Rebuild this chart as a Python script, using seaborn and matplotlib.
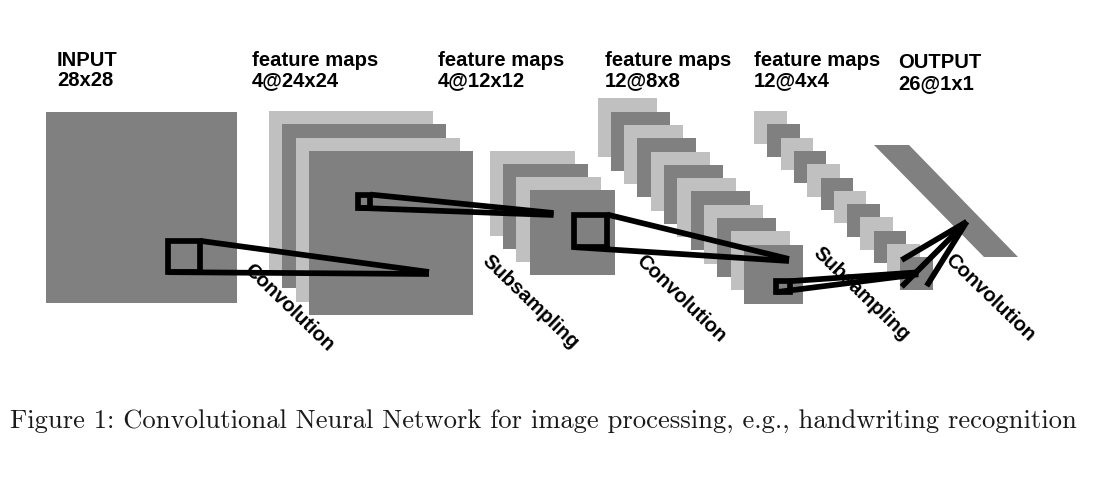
import matplotlib
matplotlib.use("Agg")
import matplotlib.pyplot as plt
from matplotlib.patches import Rectangle, Polygon
import seaborn as sns

# layer headings (two lines each)
head_title = ["INPUT", "feature maps", "feature maps", "feature maps", "feature maps", "OUTPUT"]
head_dims = ["28x28", "4@24x24", "4@12x12", "12@8x8", "12@4x4", "26@1x1"]
head_x = [57, 252, 438, 605, 754, 898]
head_y = [66, 66, 66, 66, 66, 68.5]

# stacks of feature maps: corner of the back map, side, number of maps
stack_x = [45.5, 269, 490, 597.5, 754]
stack_y = [112, 111, 150.7, 98.3, 111]
stack_side = [191, 164, 85, 59, 32.5]
stack_n = [1, 4, 4, 12, 12]
stack_step = [0, 13.3, 13.2, 13.3, 13.3]

# output layer drawn as a slanted slab
out_x = [874, 909, 1018, 984]
out_y = [145, 145, 257, 257]

# kernels: box (x0, y0, x1, y1) and the apex it points to
kern_box = [(165, 238, 203, 275), (355.4, 191.7, 373.2, 210.7),
            (570.7, 211.7, 610, 250), (773.3, 278.3, 793.3, 295)]
kern_apex = [(429, 273), (553.6, 214), (789, 260), (918.3, 273.3)]
# last convolution: three rays into the output
ray_from = [(901.7, 260), (901.7, 286.7), (926.7, 286)]
ray_to = (966.7, 221.7)

step_labels = ["Convolution", "Subsampling", "Convolution", "Subsampling", "Convolution"]
step_cx = [289, 530, 681, 861, 990]
step_cy = [308, 302, 299, 294, 298]

caption = "Figure 1: Convolutional Neural Network for image processing, e.g., handwriting recognition"

DARK = "#808080"
LIGHT = "#c0c0c0"
LW = 4.1

sns.set_theme(style="white")
plt.rcParams["font.family"] = ["Liberation Sans", "DejaVu Sans"]
plt.rcParams["text.color"] = "black"

W, H = 1112, 494
fig = plt.figure(figsize=(W / 100, H / 100), dpi=100)
ax = fig.add_axes([0, 0, 1, 1])
ax.set_xlim(0, W)
ax.set_ylim(H, 0)
ax.axis("off")

# headings
for t, d, x, y in zip(head_title, head_dims, head_x, head_y):
    ax.text(x, y, t, fontsize=14.6, fontweight="bold", ha="left", va="baseline")
    ax.text(x, y + 20.5, d, fontsize=14.6, fontweight="bold", ha="left", va="baseline")

# stacks, back to front
for x0, y0, side, n, st in zip(stack_x, stack_y, stack_side, stack_n, stack_step):
    for i in range(n):
        if n == 1:
            col = DARK
        else:
            col = LIGHT if i % 2 == 0 else DARK
        ax.add_patch(Rectangle((x0 + i * st, y0 + i * st), side, side,
                               facecolor=col, edgecolor="none", zorder=1 + i * 0.01))

ax.add_patch(Polygon(list(zip(out_x, out_y)), closed=True, facecolor=DARK,
                     edgecolor="none", zorder=1))

# kernels
h = LW * 100 / 72 / 2
for (x0, y0, x1, y1), (ax_, ay_) in zip(kern_box, kern_apex):
    ax.add_patch(Rectangle((x0 + h, y0 + h), x1 - x0 - 2 * h, y1 - y0 - 2 * h,
                           facecolor="none", edgecolor="black", lw=LW,
                           joinstyle="miter", zorder=5))
    ax.plot([x1 - h, ax_], [y0 + h, ay_ - 1], color="black", lw=LW,
            solid_capstyle="butt", zorder=5)
    ax.plot([x0 + h, ax_], [y1 - h, ay_ + 1], color="black", lw=LW,
            solid_capstyle="butt", zorder=5)

for fx, fy in ray_from:
    ax.plot([fx, ray_to[0]], [fy, ray_to[1]], color="black", lw=LW,
            solid_capstyle="butt", zorder=5)

# rotated step names
for lab, cx, cy in zip(step_labels, step_cx, step_cy):
    ax.text(cx, cy, lab, fontsize=14.5, fontweight="bold", rotation=-44,
            rotation_mode="anchor", ha="center", va="center", zorder=6)

# caption in Computer Modern, fitted to the measured width
cap = ax.text(10.5, 428.3, caption, fontsize=20, family=["cmr10", "DejaVu Serif"],
              ha="left", va="baseline", color="#1a1a1a")
fig.canvas.draw()
bb = cap.get_window_extent()
cap.set_fontsize(20 * (1077.7 - 10.5) / bb.width)

fig.savefig("out.png", dpi=100)
